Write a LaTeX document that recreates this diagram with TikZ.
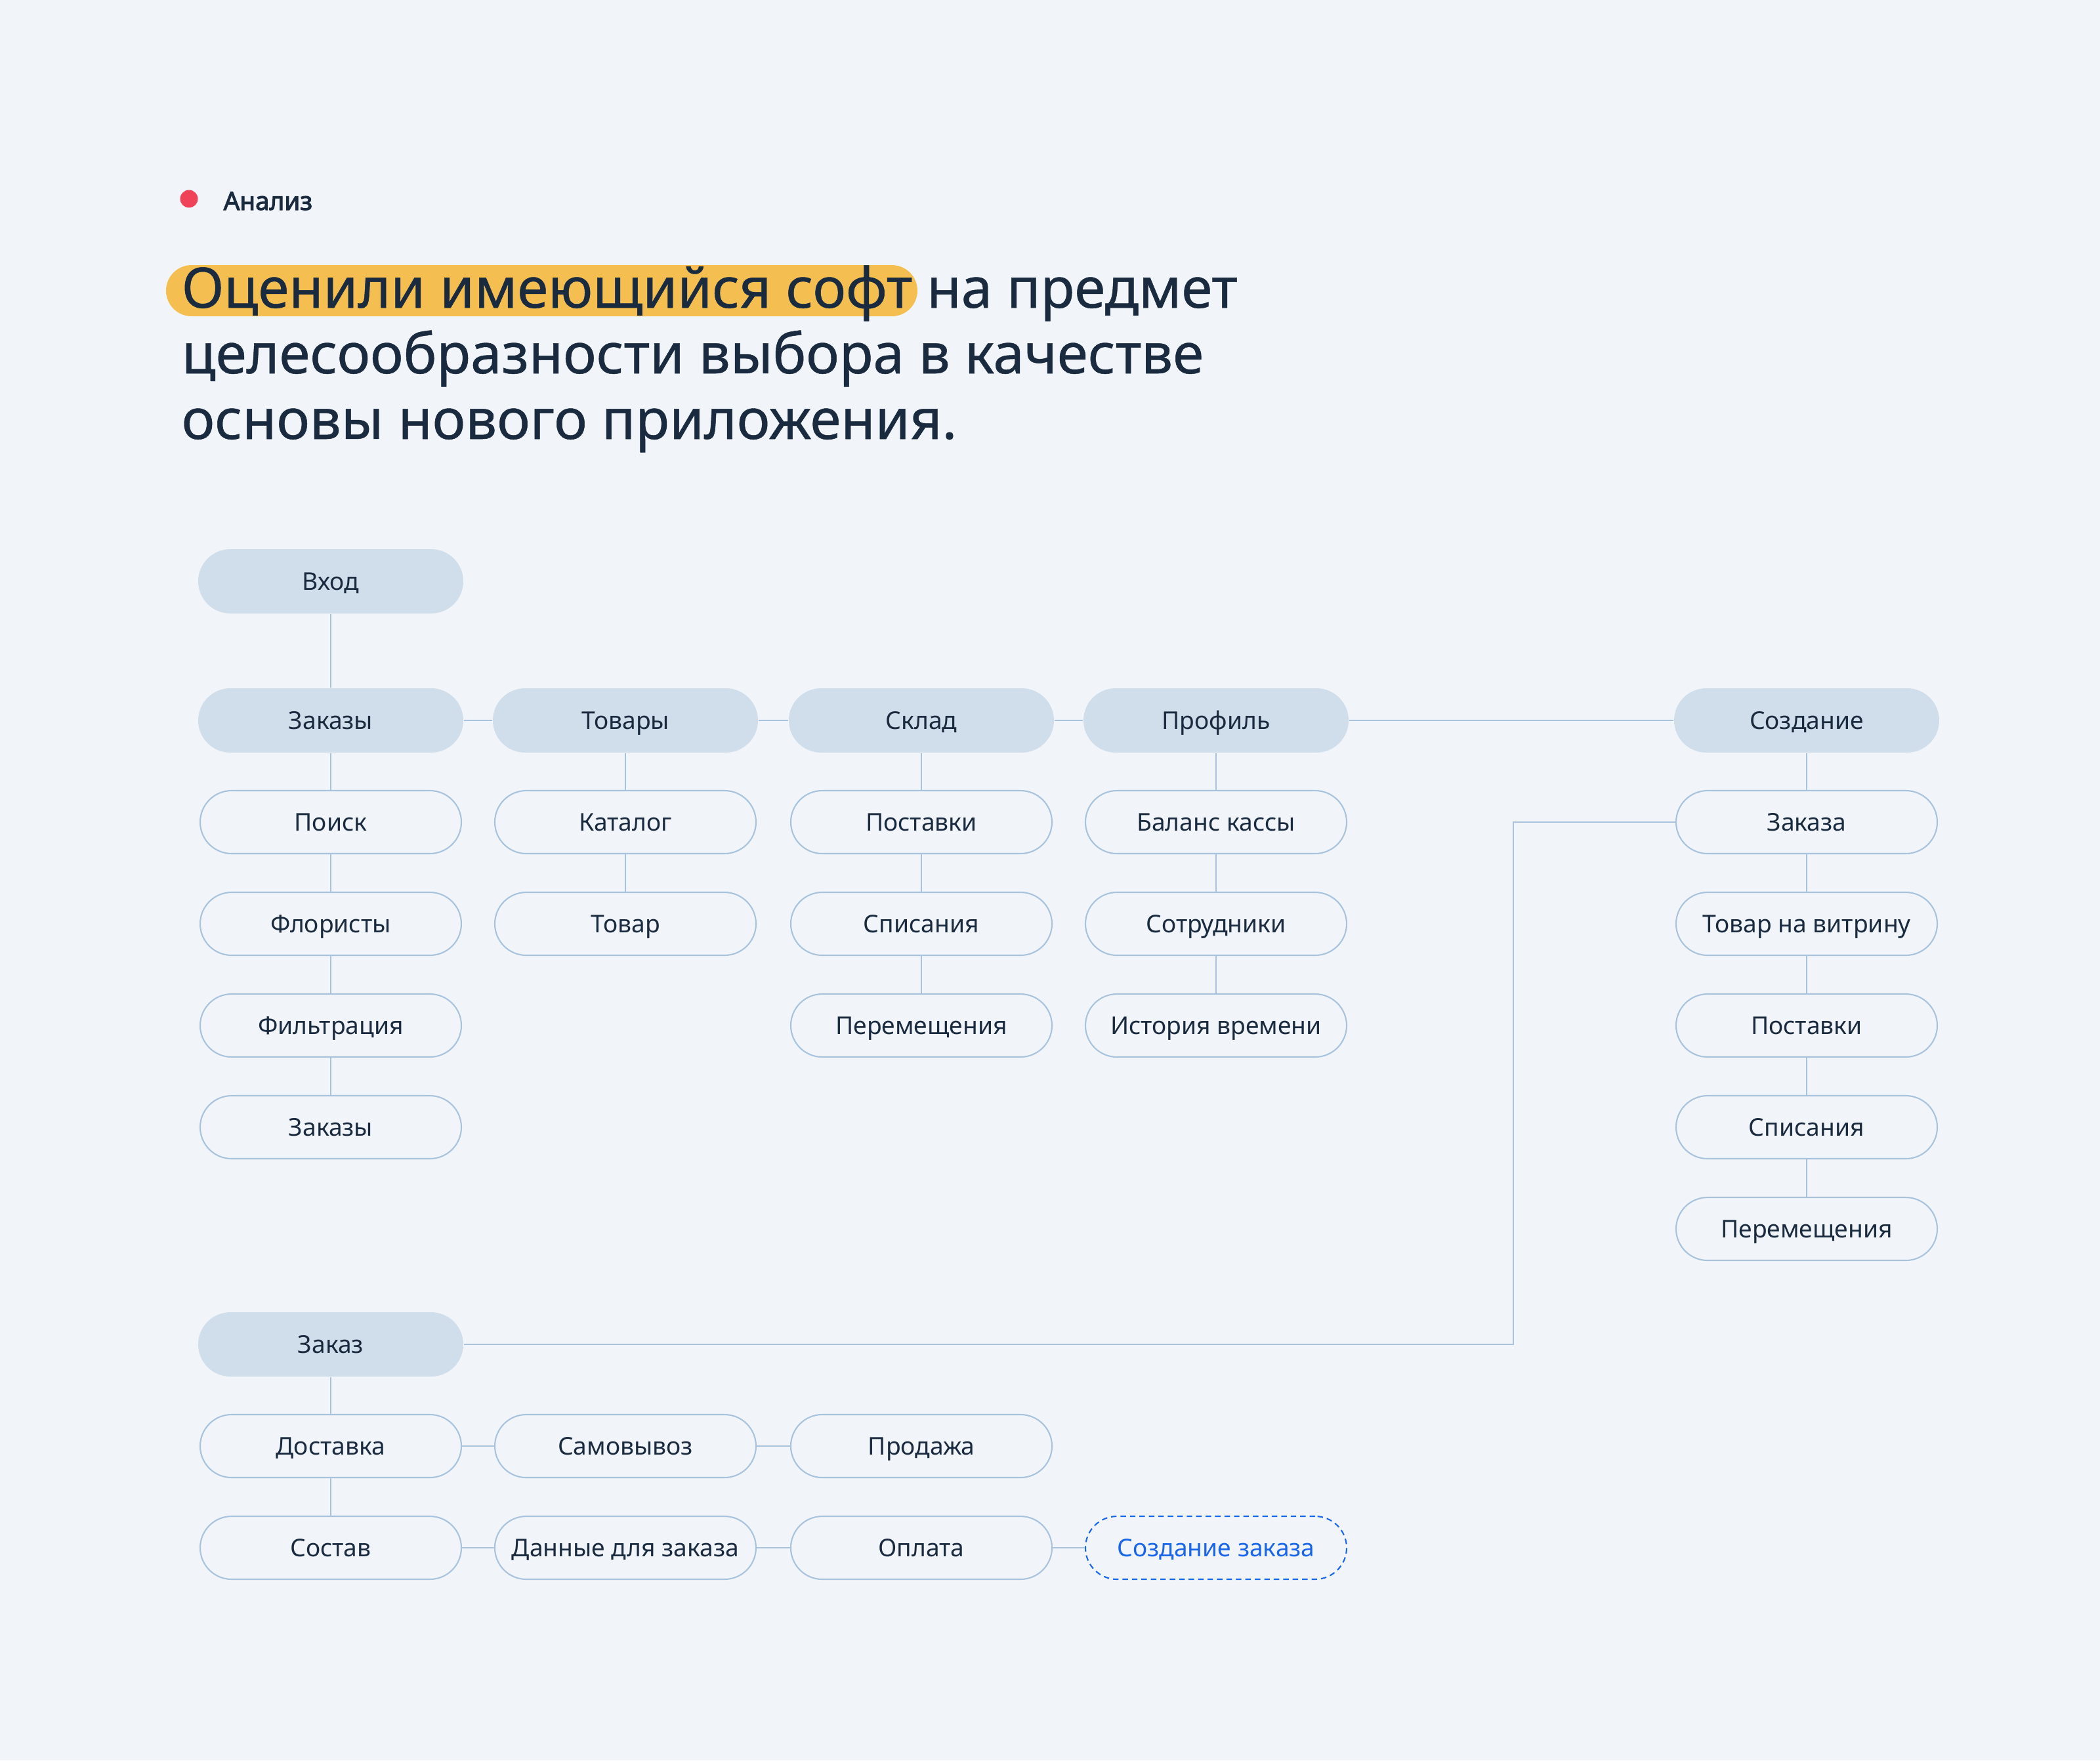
\documentclass[tikz,border=0pt]{standalone}
\usepackage{fontspec}
\setmainfont{Noto Sans}
\newfontfamily\tagfont{Noto Sans}[FakeBold=2.6]
\newfontfamily\headfont{Noto Sans}[FakeBold=0.6]
\usetikzlibrary{positioning}

\definecolor{bgcol}{HTML}{F1F5FA}
\definecolor{headfill}{HTML}{D0DDEA}
\definecolor{linecol}{HTML}{A9C3DC}
\definecolor{ink}{HTML}{1B2B3F}
\definecolor{marker}{HTML}{F4BF50}
\definecolor{dotred}{HTML}{F0435A}
\definecolor{bluecol}{HTML}{1A66E8}

\begin{document}
\begin{tikzpicture}[
    % Node styles
    head/.style={rectangle, fill=headfill, rounded corners=0.49cm,
                 minimum width=4.04cm, minimum height=0.98cm, text centered,
                 text height=0.31cm, text depth=0.05cm,
                 font=\fontsize{10.6}{12}\selectfont, text=ink},
    item/.style={rectangle, draw=linecol, fill=bgcol, line width=0.6pt, rounded corners=0.48cm,
                 minimum width=3.98cm, minimum height=0.96cm, text centered,
                 text height=0.31cm, text depth=0.05cm,
                 font=\fontsize{10.6}{12}\selectfont, text=ink},
    todo/.style={item, draw=bluecol, text=bluecol, dash pattern=on 2.4pt off 1.7pt},
    title/.style={anchor=base west, inner sep=0pt, text=ink,
                  font=\headfont\fontsize{24.2}{29}\selectfont},
    link/.style={draw=linecol, line width=0.6pt}
]

% Background
\fill[bgcol] (0,0) rectangle (32,-26.83);

% Header
\fill[dotred] (2.88,-3.03) circle (0.135);
\node[anchor=base west, inner sep=0pt, text=ink, font=\tagfont\fontsize{11}{13}\selectfont] (tag) at (3.40,-3.20) {Анализ};

% Title with highlight
\fill[marker, rounded corners=0.39cm] (2.53,-4.04) rectangle (13.98,-4.82);
\node[title] (line1) at (2.76,-4.69) {Оценили имеющийся софт на предмет};
\node[title] (line2) at (2.76,-5.69) {целесообразности выбора в качестве};
\node[title] (line3) at (2.76,-6.69) {основы нового приложения.};

% Top level
\node[head] (vhod) at (5.04,-8.86) {Вход};
\node[head] (zakazy) at (5.04,-10.98) {Заказы};
\node[head] (tovary) at (9.53,-10.98) {Товары};
\node[head] (sklad) at (14.04,-10.98) {Склад};
\node[head] (profil) at (18.53,-10.98) {Профиль};
\node[head] (sozdanie) at (27.53,-10.98) {Создание};

% Orders column
\node[item] (poisk) at (5.04,-12.53) {Поиск};
\node[item] (floristy) at (5.04,-14.08) {Флористы};
\node[item] (filtr) at (5.04,-15.63) {Фильтрация};
\node[item] (zakazy2) at (5.04,-17.18) {Заказы};

% Goods column
\node[item] (katalog) at (9.53,-12.53) {Каталог};
\node[item] (tovar) at (9.53,-14.08) {Товар};

% Stock column
\node[item] (postavki) at (14.04,-12.53) {Поставки};
\node[item] (spisaniya) at (14.04,-14.08) {Списания};
\node[item] (peremeshch) at (14.04,-15.63) {Перемещения};

% Profile column
\node[item] (balans) at (18.53,-12.53) {Баланс кассы};
\node[item] (sotrudniki) at (18.53,-14.08) {Сотрудники};
\node[item] (istoriya) at (18.53,-15.63) {История времени};

% Create column
\node[item] (szakaza) at (27.53,-12.53) {Заказа};
\node[item] (svitrina) at (27.53,-14.08) {Товар на витрину};
\node[item] (spostavki) at (27.53,-15.63) {Поставки};
\node[item] (sspisaniya) at (27.53,-17.18) {Списания};
\node[item] (speremeshch) at (27.53,-18.73) {Перемещения};

% Order screen
\node[head] (zakaz) at (5.04,-20.49) {Заказ};
\node[item] (dostavka) at (5.04,-22.04) {Доставка};
\node[item] (samovyvoz) at (9.53,-22.04) {Самовывоз};
\node[item] (prodazha) at (14.04,-22.04) {Продажа};
\node[item] (sostav) at (5.04,-23.59) {Состав};
\node[item] (dannye) at (9.53,-23.59) {Данные для заказа};
\node[item] (oplata) at (14.04,-23.59) {Оплата};
\node[todo] (novyi) at (18.53,-23.59) {Создание заказа};
\coordinate (turn) at (23.06,-20.49);

% Connectors
\draw[link] (vhod) -- (zakazy);
\draw[link] (zakazy) -- (tovary);
\draw[link] (tovary) -- (sklad);
\draw[link] (sklad) -- (profil);
\draw[link] (profil) -- (sozdanie);
\draw[link] (zakazy) -- (poisk);
\draw[link] (poisk) -- (floristy);
\draw[link] (floristy) -- (filtr);
\draw[link] (filtr) -- (zakazy2);
\draw[link] (tovary) -- (katalog);
\draw[link] (katalog) -- (tovar);
\draw[link] (sklad) -- (postavki);
\draw[link] (postavki) -- (spisaniya);
\draw[link] (spisaniya) -- (peremeshch);
\draw[link] (profil) -- (balans);
\draw[link] (balans) -- (sotrudniki);
\draw[link] (sotrudniki) -- (istoriya);
\draw[link] (sozdanie) -- (szakaza);
\draw[link] (szakaza) -- (svitrina);
\draw[link] (svitrina) -- (spostavki);
\draw[link] (spostavki) -- (sspisaniya);
\draw[link] (sspisaniya) -- (speremeshch);
\draw[link] (zakaz) -- (turn) |- (szakaza);
\draw[link] (zakaz) -- (dostavka);
\draw[link] (dostavka) -- (samovyvoz);
\draw[link] (samovyvoz) -- (prodazha);
\draw[link] (dostavka) -- (sostav);
\draw[link] (sostav) -- (dannye);
\draw[link] (dannye) -- (oplata);
\draw[link] (oplata) -- (novyi);

\end{tikzpicture}
\end{document}
